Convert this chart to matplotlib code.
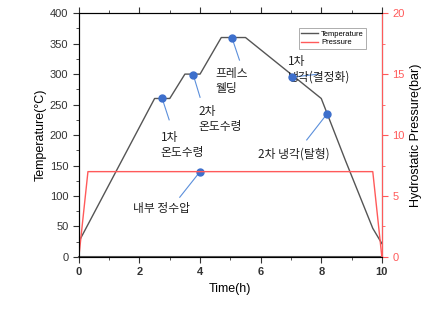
import matplotlib.pyplot as plt
from matplotlib.ticker import MultipleLocator

plt.rcParams['font.family'] = ['Liberation Sans', 'Noto Sans CJK KR', 'DejaVu Sans']

# temperature profile
time_t = [0, 2.5, 3.0, 3.5, 4.0, 4.7, 5.5, 8.0, 8.8, 9.7, 10.0]
temp = [25, 260, 260, 300, 300, 360, 360, 260, 158, 47, 22]

# pressure profile
time_p = [0, 0.3, 9.7, 10.0]
pres = [0, 7, 7, 0]

# annotations: (x, y on temp axis, text, text x, text y, line end x, line end y)
notes = [
    (2.75, 260, '1차\n온도수령', 2.7, 160, 2.98, 225),
    (3.78, 298, '2차\n온도수령', 3.95, 204, 4.0, 262),
    (5.05, 360, '프레스\n웰딩', 4.5, 265, 5.3, 323),
    (7.05, 295, '1차\n냉각(결정화)', 6.9, 285, 7.9, 300),
    (8.18, 234, '2차 냉각(탈형)', 5.9, 158, 7.52, 192),
    (4.0, 140, '내부 정수압', 1.78, 69, 3.33, 98),
]

fig = plt.figure(figsize=(4.43, 3.13), dpi=100)
ax = fig.add_axes([0.178, 0.179, 0.684, 0.779])
ax2 = ax.twinx()

l1, = ax.plot(time_t, temp, color='#555555', lw=1.0, label='Temperature')
l2, = ax2.plot(time_p, pres, color='#ff5a5a', lw=1.0, label='Pressure')

ax.set_xlim(0, 10)
ax.set_ylim(0, 400)
ax2.set_ylim(0, 20)

ax.xaxis.set_major_locator(MultipleLocator(2))
ax.xaxis.set_minor_locator(MultipleLocator(1))
ax.yaxis.set_major_locator(MultipleLocator(50))
ax.yaxis.set_minor_locator(MultipleLocator(25))
ax2.yaxis.set_major_locator(MultipleLocator(5))
ax2.yaxis.set_minor_locator(MultipleLocator(2.5))

ax.tick_params(axis='both', which='major', labelsize=8, length=4, direction='out',
               colors='#333333')
ax.tick_params(axis='both', which='minor', length=2, direction='out', colors='#333333')
ax.tick_params(axis='x', top=True, which='both')
ax2.tick_params(axis='y', which='major', labelsize=8, length=4, colors='#ff5a5a')
ax2.tick_params(axis='y', which='minor', length=2, colors='#ff5a5a')
for lab in ax.get_xticklabels():
    lab.set_fontweight('bold')

ax2.spines['right'].set_color('#ff5a5a')
ax.spines['bottom'].set_linewidth(1.5)
ax.spines['bottom'].set_color('#555555')
for sp in ['left', 'top']:
    ax.spines[sp].set_color('#333333')

ax.set_xlabel('Time(h)', fontsize=9)
ax.set_ylabel('Temperature(°C)', fontsize=9, labelpad=2)
ax2.set_ylabel('Hydrostatic Pressure(bar)', fontsize=9)

for x, y, txt, tx, ty, lx, ly in notes:
    ax.plot([x, lx], [y, ly], color='#5b8fdb', lw=0.8, zorder=3)
    ax.plot(x, y, 'o', color='#3d6fcc', ms=5, zorder=4)
    ax.text(tx, ty, txt, fontsize=8.5, family=['Noto Sans CJK KR', 'DejaVu Sans'],
            color='#222222', va='bottom', ha='left', linespacing=1.2)

leg = ax.legend([l1, l2], ['Temperature', 'Pressure'], loc='upper right',
                bbox_to_anchor=(0.96, 0.955), fontsize=5.5, frameon=True,
                fancybox=False, edgecolor='#888888', handlelength=2.2,
                handletextpad=0.4, borderpad=0.3, labelspacing=0.2)
leg.get_frame().set_linewidth(0.6)

fig.savefig('out.png', dpi=100)
